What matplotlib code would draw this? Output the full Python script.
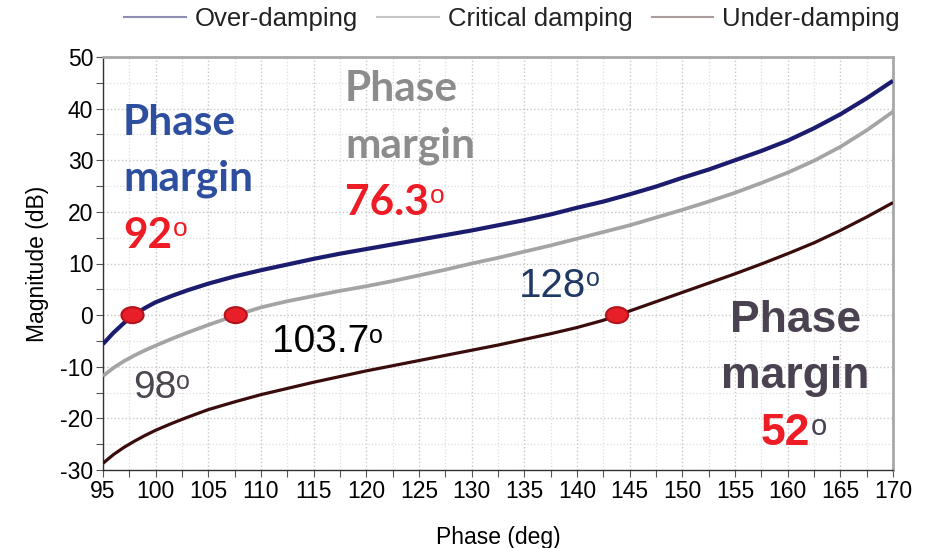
import matplotlib
matplotlib.use('Agg')
import matplotlib.pyplot as plt
from matplotlib.lines import Line2D
from matplotlib.patches import Ellipse
from matplotlib.ticker import MultipleLocator

plt.rcParams['font.family'] = 'Liberation Sans'
plt.rcParams['axes.unicode_minus'] = False

# Phase (deg) sample points shared by the three responses
phase = [95, 96, 97, 98, 99, 100, 101.5, 103, 105, 107.5, 110, 112.5, 115,
         117.5, 120, 122.5, 125, 127.5, 130, 132.5, 135, 137.5, 140, 142.5,
         145, 147.5, 150, 152.5, 155, 157.5, 160, 162.5, 165, 167.5, 170]

# Magnitude (dB) for each damping case
mag_over = [-5.6, -3.4, -1.5, 0.1, 1.4, 2.5, 3.7, 4.8, 6.1, 7.5, 8.7, 9.8,
            10.9, 11.9, 12.8, 13.7, 14.6, 15.5, 16.4, 17.4, 18.4, 19.5, 20.8,
            22.0, 23.4, 24.9, 26.6, 28.2, 30.0, 31.8, 33.8, 36.2, 38.9, 42.0,
            45.4]
mag_crit = [-11.8, -10.2, -8.9, -7.8, -6.8, -5.9, -4.6, -3.4, -1.9, -0.1, 1.5,
            2.7, 3.7, 4.7, 5.6, 6.6, 7.7, 8.8, 10.0, 11.1, 12.3, 13.5, 14.8,
            16.1, 17.4, 18.9, 20.4, 22.0, 23.7, 25.6, 27.6, 29.9, 32.6, 35.8,
            39.4]
mag_under = [-28.7, -27.0, -25.6, -24.4, -23.3, -22.3, -21.0, -19.8, -18.3,
             -16.8, -15.4, -14.2, -13.0, -11.9, -10.8, -9.8, -8.8, -7.8, -6.8,
             -5.8, -4.7, -3.6, -2.4, -1.0, 0.8, 2.6, 4.4, 6.2, 8.0, 9.9, 11.9,
             14.0, 16.4, 19.0, 21.8]

# 0 dB crossings
cross_phase = [97.8, 107.6, 143.8]
cross_mag = [0, 0, 0]

labels = ['Over-damping', 'Critical damping', 'Under-damping']

W, H = 931, 548
fig = plt.figure(figsize=(W / 100, H / 100), dpi=100)
ax = fig.add_axes([103 / W, 1 - 470 / H, 790 / W, 413 / H])

line_kw = dict(solid_capstyle='butt', solid_joinstyle='round', zorder=3)
ax.plot(phase, mag_over, color='#1c1c6e', lw=3.0, **line_kw)
ax.plot(phase, mag_crit, color='#a4a4a4', lw=2.7, **line_kw)
ax.plot(phase, mag_under, color='#3a0c0c', lw=2.3, **line_kw)

for px, py in zip(cross_phase, cross_mag):
    ax.add_patch(Ellipse((px, py), 2.1, 3.1, facecolor='#e81e28',
                         edgecolor='#b3141c', lw=1.5, zorder=4))

ax.set_xlim(95, 170)
ax.set_ylim(-30, 50)
ax.xaxis.set_major_locator(MultipleLocator(5))
ax.xaxis.set_minor_locator(MultipleLocator(2.5))
ax.yaxis.set_major_locator(MultipleLocator(10))
ax.yaxis.set_minor_locator(MultipleLocator(5))
ax.tick_params(which='both', direction='out', length=5, width=0.8,
               color='#555555', labelsize=16.5, pad=2)
ax.grid(which='major', ls=':', color='#c8c8c8', lw=1.0)
ax.grid(which='minor', ls=':', color='#dedede', lw=0.9)
ax.set_axisbelow(True)

for side in ['left', 'bottom']:
    ax.spines[side].set_color('#333333')
    ax.spines[side].set_linewidth(1.0)
for side in ['top', 'right']:
    ax.spines[side].set_color('#a8a8a8')
    ax.spines[side].set_linewidth(2.0)

ax.set_xlabel('Phase (deg)', fontsize=16.5, labelpad=17)
ax.set_ylabel('Magnitude (dB)', fontsize=16.5, labelpad=8)

# legend across the top, in faded tones
handles = [Line2D([], [], color='#8e8eb0', lw=1.5),
           Line2D([], [], color='#c6c6c6', lw=1.5),
           Line2D([], [], color='#ab9c9c', lw=1.5)]
fig.legend(handles, labels, loc='center', bbox_to_anchor=(512 / W, 1 - 19 / H),
           ncol=3, frameon=False, fontsize=18.5, handlelength=2.4,
           handletextpad=0.35, columnspacing=0.75, labelcolor='#222222')


def fx(x):
    return x / W


def fy(y):
    return 1 - y / H


def deg(txt, color, size, dx=0.5):
    # small raised "o" right after a number
    return ax.annotate('o', xy=(1, 1), xycoords=txt, xytext=(dx, 0),
                       textcoords='offset points', ha='left', va='top',
                       fontsize=size, color=color)


bold_cal = dict(family='Lato', weight='bold', fontsize=30.5)
red = '#ee1c25'

# over-damping note
fig.text(fx(123), fy(135), 'Phase', color='#2e4f9f', va='baseline', **bold_cal)
fig.text(fx(123), fy(191), 'margin', color='#2e4f9f', va='baseline', **bold_cal)
t = fig.text(fx(123), fy(248), '92', color=red, va='baseline', **bold_cal)
deg(t, red, 19)

# critical damping note
fig.text(fx(345), fy(101), 'Phase', color='#8c8c8c', va='baseline', **bold_cal)
fig.text(fx(345), fy(158), 'margin', color='#8c8c8c', va='baseline', **bold_cal)
t = fig.text(fx(345), fy(215), '76.3', color=red, va='baseline', **bold_cal)
deg(t, red, 19)

# under-damping note
dark = '#4a4250'
fig.text(fx(796), fy(332), 'Phase', color=dark, ha='center', va='baseline',
         fontsize=32, weight='bold')
fig.text(fx(795), fy(388), 'margin', color=dark, ha='center', va='baseline',
         fontsize=32, weight='bold')
t = fig.text(fx(761), fy(445), '52', color=red, va='baseline', fontsize=32,
             weight='bold')
deg(t, dark, 21)

# crossing phase values
t = fig.text(fx(519), fy(297), '128', color='#1f3864', va='baseline', fontsize=29)
deg(t, '#1f3864', 18, dx=0)
t = fig.text(fx(272), fy(352), '103.7', color='black', va='baseline', fontsize=28)
deg(t, 'black', 18, dx=0)
t = fig.text(fx(133), fy(398), '98', color='#4d4550', va='baseline', fontsize=28)
deg(t, '#4d4550', 18, dx=0)

fig.savefig('out.png', dpi=100)
